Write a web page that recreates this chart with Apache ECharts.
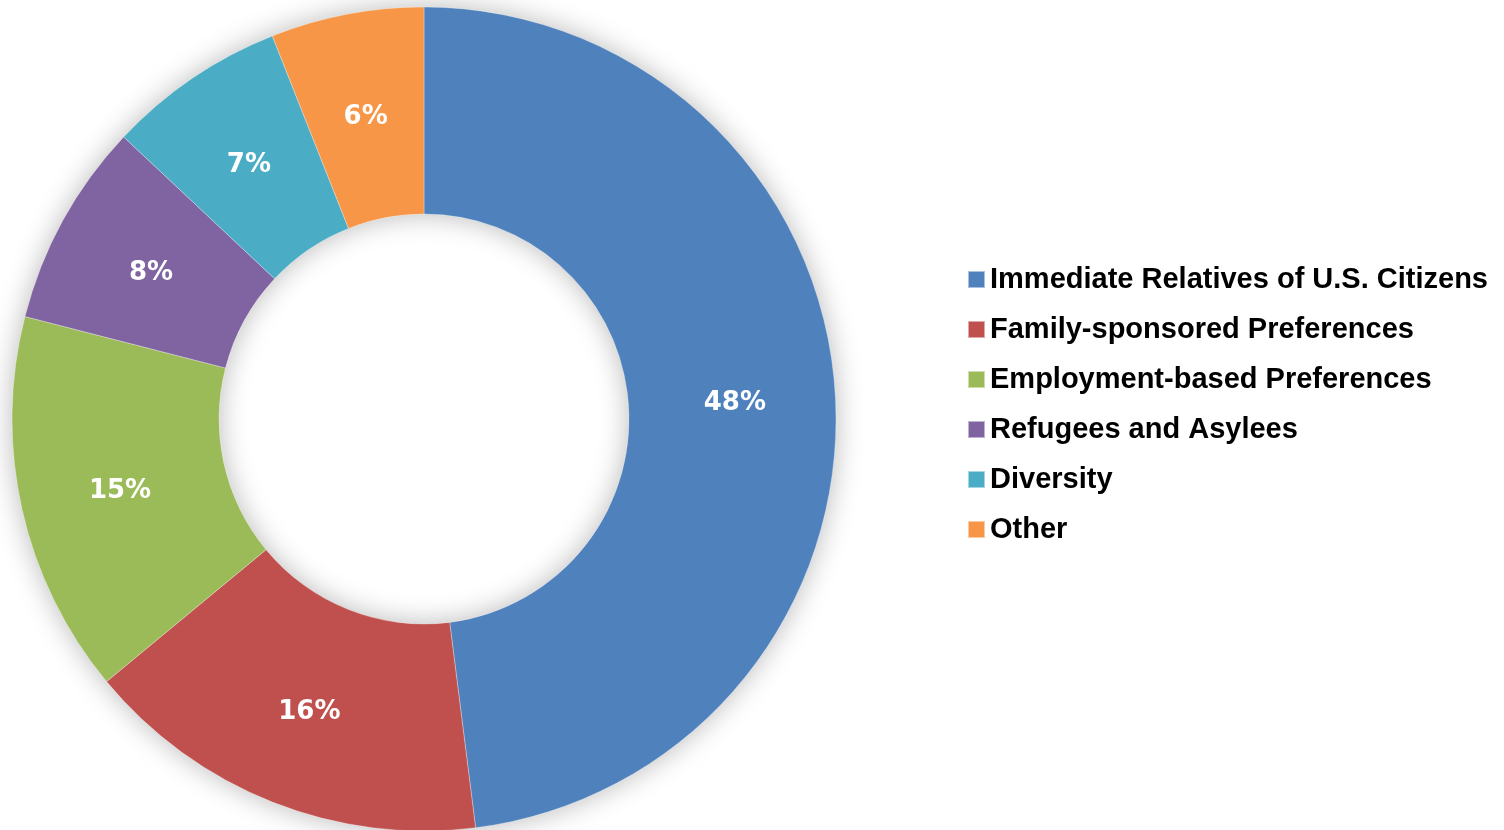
<!DOCTYPE html>
<html>
<head>
<meta charset="utf-8">
<script src="https://cdn.jsdelivr.net/npm/echarts@6/dist/echarts.min.js"></script>
<style>
  html, body { margin: 0; padding: 0; background: #ffffff; }
  #chart { width: 1504px; height: 830px; }
</style>
</head>
<body>
<div id="chart"></div>
<script>
// Admission categories and their share of the total (percent)
const categories = [
  'Immediate Relatives of U.S. Citizens',
  'Family-sponsored Preferences',
  'Employment-based Preferences',
  'Refugees and Asylees',
  'Diversity',
  'Other'
];
const shares = [48, 16, 15, 8, 7, 6];
const colors = ['#4F81BD', '#C0504D', '#9BBB59', '#8064A2', '#4BACC6', '#F79646'];

const LABEL_FONT = '"DejaVu Sans", "Noto Sans", sans-serif';
const LEGEND_FONT = '"Liberation Sans", Arial, sans-serif';
const CENTER = [424, 419];
const RADIUS = [205, 412];

const chart = echarts.init(document.getElementById('chart'), null, { renderer: 'canvas' });

chart.setOption({
  backgroundColor: '#ffffff',
  animation: false,
  color: colors,
  legend: {
    orient: 'vertical',
    left: 967,
    top: 265,
    padding: 0,
    itemWidth: 17,
    itemHeight: 17,
    itemGap: 21,
    icon: 'rect',
    textStyle: {
      fontFamily: LEGEND_FONT,
      fontWeight: 'bold',
      fontSize: 29,
      lineHeight: 28,
      color: '#000000'
    },
    data: categories
  },
  series: [
    {
      // soft shadow ring behind the donut
      type: 'pie',
      silent: true,
      center: CENTER,
      radius: RADIUS,
      label: { show: false },
      labelLine: { show: false },
      legendHoverLink: false,
      itemStyle: {
        color: '#e6e6e6',
        shadowBlur: 28,
        shadowColor: 'rgba(0,0,0,0.28)'
      },
      data: [{ value: 1, name: '' }],
      z: 1
    },
    {
      type: 'pie',
      center: CENTER,
      radius: RADIUS,
      startAngle: 90,
      clockwise: true,
      avoidLabelOverlap: false,
      itemStyle: {
        borderColor: 'rgba(255,255,255,0.5)',
        borderWidth: 0.6
      },
      label: {
        show: true,
        position: 'inside',
        // a thin empty first line nudges the percentage slightly downward
        formatter: '{gap| }\n{pct|{c}%}',
        rich: {
          gap: { fontSize: 1, lineHeight: 8 },
          pct: {
            color: '#ffffff',
            fontFamily: LABEL_FONT,
            fontWeight: 'bold',
            fontSize: 26,
            lineHeight: 30
          }
        }
      },
      labelLine: { show: false },
      data: categories.map((name, i) => ({ name: name, value: shares[i] })),
      z: 2
    }
  ]
});
</script>
</body>
</html>
